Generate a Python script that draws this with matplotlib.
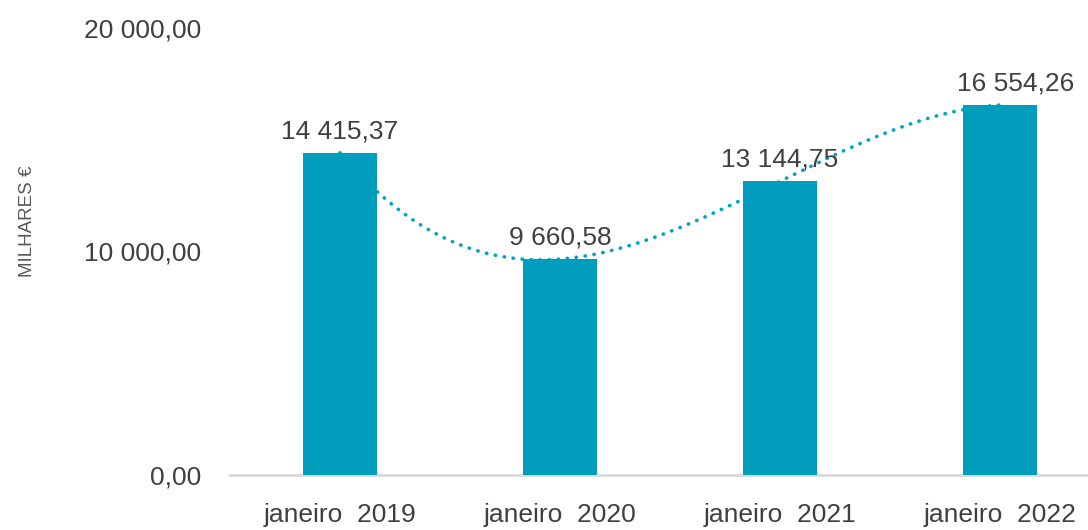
import numpy as np
import matplotlib.pyplot as plt

plt.rcParams['font.family'] = ['Liberation Sans', 'DejaVu Sans']

categories = ['janeiro  2019', 'janeiro  2020', 'janeiro  2021', 'janeiro  2022']
values = [14415.37, 9660.58, 13144.75, 16554.26]
labels = ['14 415,37', '9 660,58', '13 144,75', '16 554,26']
yticks = [0, 10000, 20000]
ytick_labels = ['0,00', '10 000,00', '20 000,00']

bar_color = '#009dbd'
text_color = '#404040'

fig = plt.figure(figsize=(10.88, 5.30), dpi=100)
ax = fig.add_axes([230 / 1088, 55 / 530, 858 / 1088, 447 / 530])

x = np.arange(len(values))
ax.bar(x, values, width=0.34, color=bar_color, zorder=3)

# polynomial trendline (order 3) behind the bars
coef = np.polyfit(x, values, 3)
xs = np.linspace(0, 3, 200)
ax.plot(xs, np.polyval(coef, xs), color='#00a5c6', linewidth=2.6,
        linestyle=(0, (0.1, 2.4)), dash_capstyle='round', zorder=2)

# last label sits a little right of its bar in the original
label_dx = [0, 0, 0, 11]
for xi, v, lab, dx in zip(x, values, labels, label_dx):
    ax.annotate(lab, (xi, v), xytext=(dx, 7), textcoords='offset points',
                ha='center', va='bottom', fontsize=19, color=text_color)

ax.set_xlim(-0.5, 3.4)
ax.set_ylim(0, 20000)
ax.set_xticks(x)
ax.set_xticklabels(categories, fontsize=19, color=text_color)
ax.set_yticks(yticks)
ax.set_yticklabels(ytick_labels, fontsize=19, color=text_color)
ax.tick_params(axis='both', length=0)
ax.tick_params(axis='y', pad=21)
ax.tick_params(axis='x', pad=20)

for side in ['top', 'right', 'left']:
    ax.spines[side].set_visible(False)
ax.spines['bottom'].set_color('#d9d9d9')
ax.spines['bottom'].set_linewidth(2)

fig.text(28 / 1088, 1 - 221 / 530, 'MILHARES €', rotation=90, fontsize=13.5,
         color='#595959', ha='center', va='center')

fig.savefig('out.png', dpi=100)
